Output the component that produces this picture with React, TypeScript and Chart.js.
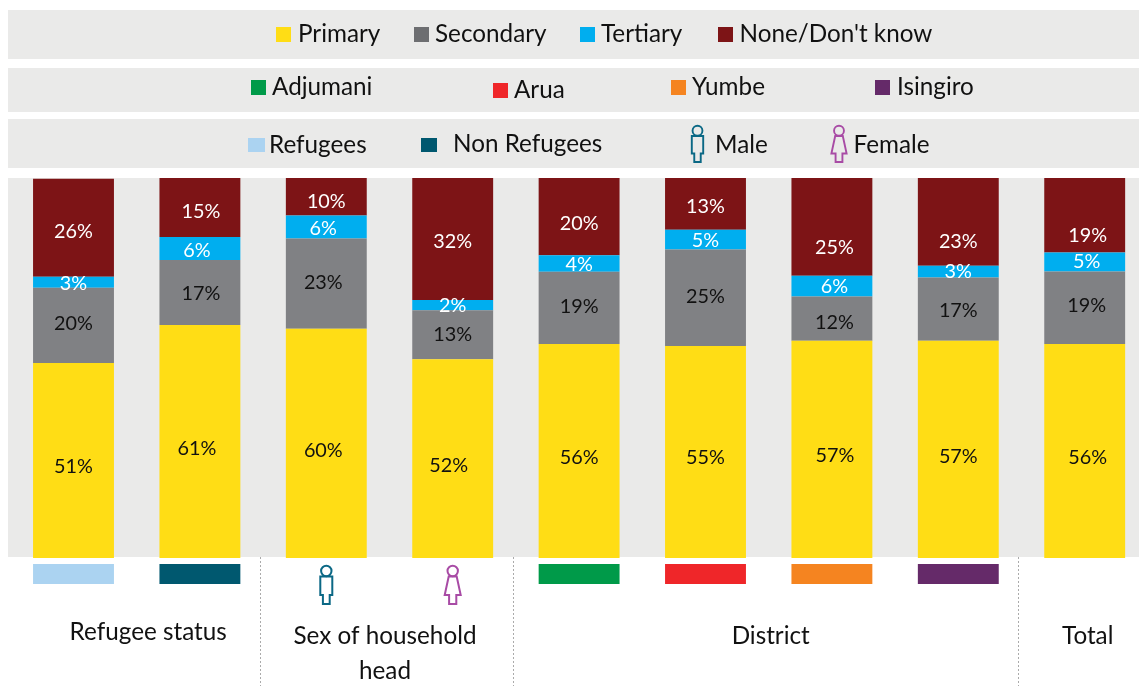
import React, { useEffect, useRef } from "react";
import { Chart, registerables } from "chart.js";

Chart.register(...registerables);

const categories = ["Refugees", "Non Refugees", "Male", "Female", "Adjumani", "Arua", "Yumbe", "Isingiro", "Total"];
const primary = [51.3, 61.3, 60.3, 52.3, 56.3, 55.8, 57.2, 57.2, 56.3];
const secondary = [19.8, 17.1, 23.8, 12.9, 19.0, 25.4, 11.6, 16.6, 19.1];
const tertiary = [2.9, 6.1, 6.0, 2.7, 4.4, 5.2, 5.5, 3.1, 5.0];
const none = [25.8, 15.5, 9.9, 32.1, 20.3, 13.6, 25.7, 23.1, 19.6];
const primaryLabels = [51, 61, 60, 52, 56, 55, 57, 57, 56];
const secondaryLabels = [20, 17, 23, 13, 19, 25, 12, 17, 19];
const tertiaryLabels = [3, 6, 6, 2, 4, 5, 6, 3, 5];
const noneLabels = [26, 15, 10, 32, 20, 13, 25, 23, 19];
const groups = ["Refugee status", "Sex of household", "head", "District", "Total"];
const legendSeries = ["Primary", "Secondary", "Tertiary", "None/Don't know"];
const legendDistricts = ["Adjumani", "Arua", "Yumbe", "Isingiro"];
const legendStatus = ["Refugees", "Non Refugees", "Male", "Female"];

const FONT = "Lato, Carlito, sans-serif";
const PANEL = "#EAEAE9";
const TEXT = "#111111";
const MALE = "#0B6885";
const FEMALE = "#A84BA5";
const markers = ["#ABD3F1", "#00586F", "", "", "#009A49", "#EF2629", "#F58420", "#652A69", ""];

function label(ctx: any, text: string, x: number, y: number, px: number, color: string, align = "left", sx = 0.99) {
  ctx.save();
  ctx.font = `${px}px ${FONT}`;
  ctx.fillStyle = color;
  ctx.textAlign = align;
  ctx.textBaseline = "middle";
  ctx.translate(x, y);
  ctx.scale(sx, 1);
  ctx.fillText(text, 0, 0);
  ctx.restore();
}

function person(ctx: any, cx: number, top: number, female: boolean, color: string, k = 1) {
  ctx.save();
  ctx.translate(cx, top);
  ctx.scale(k, k);
  ctx.strokeStyle = color;
  ctx.lineWidth = 2;
  ctx.beginPath();
  ctx.arc(0, 6, 5.2, 0, Math.PI * 2);
  ctx.stroke();
  ctx.beginPath();
  if (female) {
    ctx.moveTo(-4, 11.5);
    ctx.lineTo(4, 11.5);
    ctx.lineTo(8, 30);
    ctx.lineTo(3.6, 30);
    ctx.lineTo(3.6, 39);
    ctx.lineTo(-3.6, 39);
    ctx.lineTo(-3.6, 30);
    ctx.lineTo(-8, 30);
  } else {
    ctx.moveTo(-6, 11.5);
    ctx.lineTo(6, 11.5);
    ctx.lineTo(6, 30);
    ctx.lineTo(3.4, 30);
    ctx.lineTo(3.4, 39);
    ctx.lineTo(-3.4, 39);
    ctx.lineTo(-3.4, 30);
    ctx.lineTo(-6, 30);
  }
  ctx.closePath();
  ctx.stroke();
  ctx.restore();
}

const labelNudge = [
  [6, 7, 7, 7, 7, 6, 6, 7, 7],
  [-2, 1, -1, 0, -1, -1, 4, 1, -2],
  [1, 2, 2, 0, 1, 1, 0, 0, 0],
  [4, 4, 5, 3, 7, 3, 21, 20, 20],
];
const labelShift = [
  [0, -3, -3, -4, 0, 0, 3, 0, 3],
  [0, 1, -3, 0, 0, 0, 2.5, 0, 2],
  [0, -3, -3, 0, 0, 0, 2.5, 0, 2],
  [0, 1, 0, 0, 0, 0, 2.5, 0, 3],
];

const decorations = {
  id: "decorations",
  beforeDraw(chart: any) {
    const { ctx } = chart;
    ctx.save();
    ctx.fillStyle = PANEL;
    ctx.fillRect(8, 10, 1152, 49);
    ctx.fillRect(8, 68, 1152, 44);
    ctx.fillRect(8, 119, 1152, 49);
    ctx.fillRect(8, 178, 1152, 379);
    ctx.restore();
  },
  afterDatasetsDraw(chart: any) {
    const { ctx } = chart;
    const x = chart.scales.x;
    const first = chart.getDatasetMeta(0).data;

    // data labels
    chart.data.datasets.forEach((ds: any, di: number) => {
      chart.getDatasetMeta(di).data.forEach((el: any, i: number) => {
        const mid = (el.y + el.base) / 2;
        label(ctx, `${ds.shown[i]}%`, el.x + labelShift[di][i], mid + labelNudge[di][i], 20, ds.textColor, "center");
      });
    });

    // legend rows
    const box = (color: string, l: number, t: number, w: number, h: number) => {
      ctx.fillStyle = color;
      ctx.fillRect(l, t, w, h);
    };
    const colors = chart.data.datasets.map((d: any) => d.backgroundColor);
    const rowOne: [number, number][] = [[276, 298], [414, 435], [580, 601], [718, 739.5]];
    rowOne.forEach(([b, t], i) => {
      box(i === 1 ? "#6D6E71" : colors[i], b, 27, 15, 15);
      label(ctx, legendSeries[i], t, 34, 24.5, TEXT);
    });
    const rowTwo: [number, number, number][] = [[251, 272, 80], [493, 514, 83], [671, 692, 80], [875, 897, 80]];
    rowTwo.forEach(([b, t, top], i) => {
      box(markers[i + 4], b, top, 15, 15);
      label(ctx, legendDistricts[i], t, top + 7, 24.5, TEXT);
    });
    box(markers[0], 248, 138, 17, 14);
    label(ctx, legendStatus[0], 269, 145, 24.5, TEXT);
    box(markers[1], 421, 138, 16, 14);
    label(ctx, legendStatus[1], 453, 144, 24.5, TEXT);
    person(ctx, 697.5, 125, false, MALE, 0.95);
    label(ctx, legendStatus[2], 715, 145, 24.5, TEXT);
    person(ctx, 839, 125, true, FEMALE, 0.95);
    label(ctx, legendStatus[3], 853.5, 145, 24.5, TEXT);

    // markers under the bars
    first.forEach((el: any, i: number) => {
      if (markers[i]) box(markers[i], el.x - el.width / 2, 564, el.width, 20);
    });
    person(ctx, first[2].x, 565, false, MALE);
    person(ctx, first[3].x, 565, true, FEMALE);

    // group separators and names
    const step = x.getPixelForValue(1) - x.getPixelForValue(0);
    ctx.save();
    ctx.strokeStyle = "#ABABAB";
    ctx.setLineDash([2, 2]);
    ctx.lineWidth = 1;
    [2, 4, 8].forEach((i) => {
      const px = Math.round(x.getPixelForValue(i) - step / 2) - 3 + 0.5;
      ctx.beginPath();
      ctx.moveTo(px, 557);
      ctx.lineTo(px, 686);
      ctx.stroke();
    });
    ctx.restore();
    const mid = (a: number, b: number) => (x.getPixelForValue(a) + x.getPixelForValue(b)) / 2;
    label(ctx, groups[0], mid(0, 1) + 11.5, 632, 24.5, TEXT, "center");
    label(ctx, groups[1], mid(2, 3) - 4.5, 636, 24.5, TEXT, "center");
    label(ctx, groups[2], mid(2, 3) - 4.5, 671, 24.5, TEXT, "center");
    label(ctx, groups[3], mid(4, 7) + 2, 636, 24.5, TEXT, "center");
    label(ctx, groups[4], x.getPixelForValue(8) + 3, 636, 24.5, TEXT, "center");
  },
};

export default function App() {
  const ref = useRef<HTMLCanvasElement>(null);
  useEffect(() => {
    const chart = new Chart(ref.current as HTMLCanvasElement, {
      type: "bar",
      plugins: [decorations],
      data: {
        labels: categories,
        datasets: [
          { label: legendSeries[0], data: primary, backgroundColor: "#FFDD15", shown: primaryLabels, textColor: "#111111" },
          { label: legendSeries[1], data: secondary, backgroundColor: "#808184", shown: secondaryLabels, textColor: "#111111" },
          { label: legendSeries[2], data: tertiary, backgroundColor: "#00AEEF", shown: tertiaryLabels, textColor: "#FFFFFF" },
          { label: legendSeries[3], data: none, backgroundColor: "#7D1416", shown: noneLabels, textColor: "#FFFFFF" },
        ] as any,
      },
      options: {
        animation: false,
        responsive: false,
        layout: { padding: { left: 10.3, right: 12.1, top: 178, bottom: 128 } },
        datasets: { bar: { categoryPercentage: 1, barPercentage: 0.64, borderWidth: 0 } },
        plugins: { legend: { display: false }, tooltip: { enabled: false }, title: { display: false } },
        scales: {
          x: { stacked: true, display: false },
          y: { stacked: true, display: false, min: 0, max: 100 },
        },
      } as any,
    });
    return () => chart.destroy();
  }, []);
  return (
    <div style={{ position: "absolute", left: 0, top: 0, width: 1139, height: 686, overflow: "hidden", background: "#fff" }}>
      <canvas ref={ref} width={1160} height={686} style={{ display: "block" }} />
    </div>
  );
}
